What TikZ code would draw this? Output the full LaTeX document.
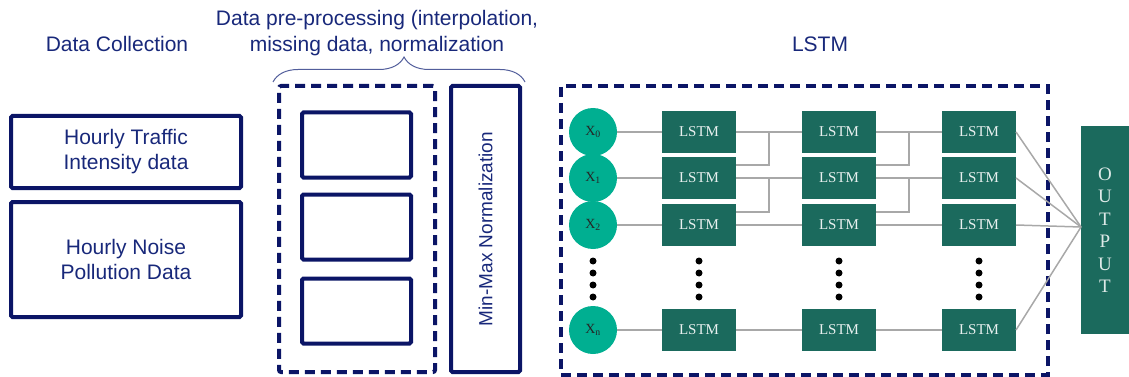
\documentclass[tikz,border=0pt]{standalone}
\usepackage{fontspec}
\setmainfont{Liberation Sans}
\newfontfamily\lstmfont{Liberation Serif}
\usetikzlibrary{decorations.pathreplacing}
\definecolor{navy}{HTML}{0B1566}
\definecolor{navytext}{HTML}{18287A}
\definecolor{lstmgreen}{HTML}{1B6A5D}
\definecolor{xteal}{HTML}{00AF91}
\definecolor{wiregray}{HTML}{A8A8A8}

\begin{document}
\begin{tikzpicture}[x=1pt,y=-1pt,
  every node/.style={inner sep=0pt,outer sep=0pt},
  heading/.style={text=navytext,font=\fontsize{21}{26}\selectfont,align=center},
  srcbox/.style={draw=navy,line width=4pt,rounded corners=1.5pt,minimum width=230pt,
    text=navytext,font=\fontsize{21}{25}\selectfont,align=center},
  stepbox/.style={draw=navy,line width=4pt,rounded corners=1.5pt,minimum width=109pt,minimum height=65pt},
  dashbox/.style={draw=navy,line width=4pt,dash pattern=on 10pt off 6pt,rounded corners=2pt},
  lstm/.style={fill=lstmgreen,minimum width=74pt,minimum height=42pt,
    text=white!90!lstmgreen,font=\lstmfont\fontsize{15}{17}\selectfont},
  xnode/.style={circle,fill=xteal,minimum size=48pt,text=black!85,font=\lstmfont\fontsize{14}{15}\selectfont},
  wire/.style={draw=wiregray,line width=1.5pt},
  brace/.style={draw=navytext!75,line width=1pt,decorate,decoration={brace,amplitude=25pt,aspect=0.52}}]
\useasboundingbox (0,0) rectangle (1129,377);

\node[heading] (coll) at (117,44) {Data Collection};
\node[heading] (prep) at (377,33) {Data pre-processing (interpolation,\\missing data, normalization};
\node[heading] (lstmtitle) at (820,44) {LSTM};

\node[srcbox,minimum height=72pt] (traffic) at (126,152) {Hourly Traffic\\Intensity data};
\node[srcbox,minimum height=115pt] (noise) at (126,259.5) {Hourly Noise\\Pollution Data};

\node[dashbox,minimum width=156pt,minimum height=286pt] (prebox) at (357,229) {};
\foreach \i/\y in {1/145,2/227,3/311}
  \node[stepbox] (step\i) at (356.5,\y) {};
\node[draw=navy,line width=4pt,rounded corners=1.5pt,minimum width=69pt,minimum height=286pt,
  text=navytext,font=\fontsize{19}{23}\selectfont] (minmax) at (485.5,229)
  {\rotatebox{90}{Min-Max Normalization}};
\draw[brace] (273,82) -- (525,82);

\node[dashbox,minimum width=487pt,minimum height=289pt,rounded corners=0pt] (lstmbox) at (804.5,230.5) {};
\node[fill=lstmgreen,minimum width=48pt,minimum height=208pt,align=center,
  text=white!85!lstmgreen,font=\lstmfont\fontsize{19}{22.5}\selectfont] (out) at (1105,230) {O\\U\\T\\P\\U\\T};

\foreach \r/\y in {0/132,1/178,2/225,n/330} {
  \node[xnode] (x\r) at (593,\y) {X\textsubscript{\r}};
  \foreach \c/\xx in {1/699,2/839,3/979}
    \node[lstm] (l\r\c) at (\xx,\y) {LSTM};
}
\foreach \r in {0,1,2,n} {
  \draw[wire] (x\r) -- (l\r1) (l\r1) -- (l\r2) (l\r2) -- (l\r3);
  \draw[wire] (l\r3.east) -- ([yshift=3pt]out.west);
}
\foreach \a/\b in {0/1,1/2}
  \foreach \c/\d in {1/2,2/3}
    \draw[wire] ([yshift=13pt]l\b\c.east) -- ++(33,0) |- (l\a\d.west);
\foreach \xx in {593,699,839,979}
  \foreach \yy in {261,273,285,297}
    \fill (\xx,\yy) circle (3.5);
\end{tikzpicture}
\end{document}
